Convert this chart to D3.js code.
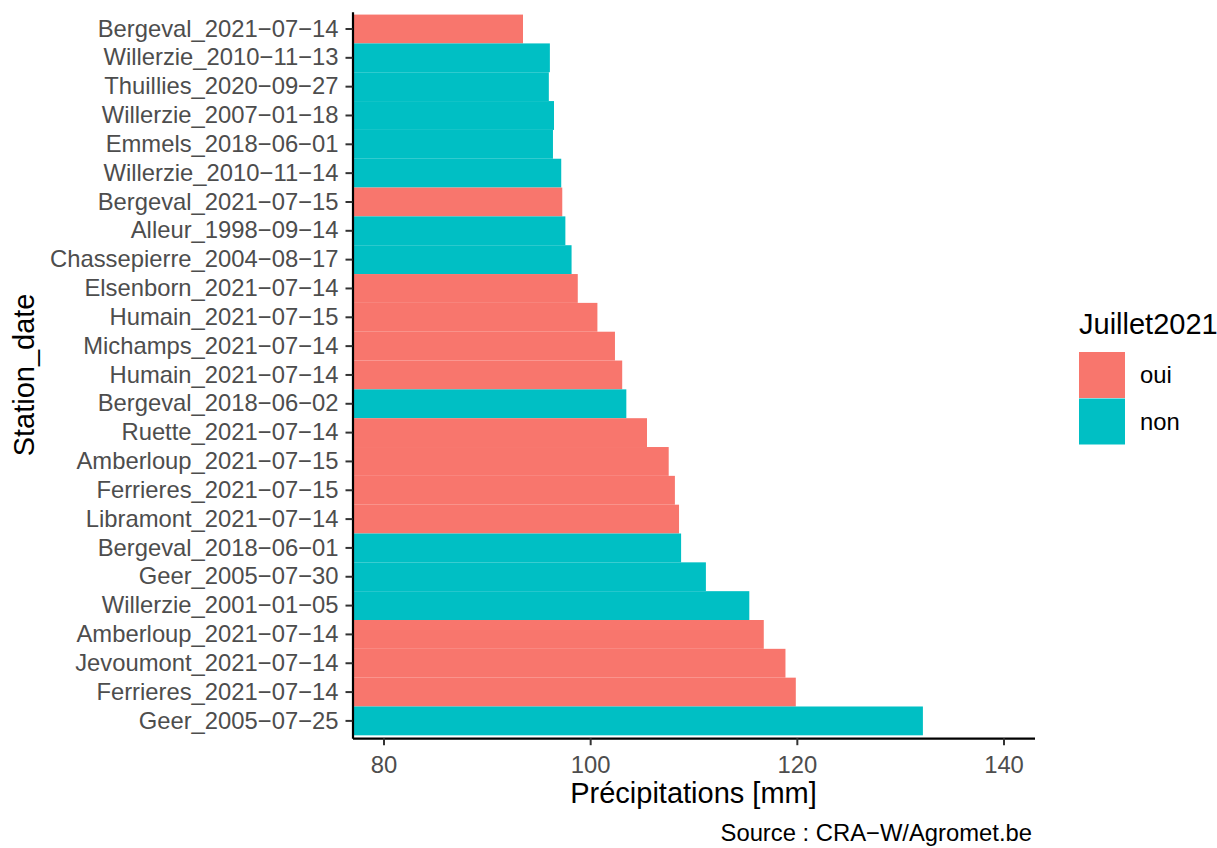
<!DOCTYPE html>
<html>
<head>
<meta charset="utf-8">
<script src="https://cdn.jsdelivr.net/npm/d3@7"></script>
<style>
  body { margin: 0; background: #fff; }
  svg text { font-family: "Liberation Sans", Arial, Helvetica, sans-serif; }
</style>
</head>
<body>
<div id="chart"></div>
<script>
// Data, top to bottom as in the picture
const stations = [
  "Bergeval_2021−07−14", "Willerzie_2010−11−13", "Thuillies_2020−09−27",
  "Willerzie_2007−01−18", "Emmels_2018−06−01", "Willerzie_2010−11−14",
  "Bergeval_2021−07−15", "Alleur_1998−09−14", "Chassepierre_2004−08−17",
  "Elsenborn_2021−07−14", "Humain_2021−07−15", "Michamps_2021−07−14",
  "Humain_2021−07−14", "Bergeval_2018−06−02", "Ruette_2021−07−14",
  "Amberloup_2021−07−15", "Ferrieres_2021−07−15", "Libramont_2021−07−14",
  "Bergeval_2018−06−01", "Geer_2005−07−30", "Willerzie_2001−01−05",
  "Amberloup_2021−07−14", "Jevoumont_2021−07−14", "Ferrieres_2021−07−14",
  "Geer_2005−07−25"
];
const precip = [
  93.5, 96.1, 96.0, 96.5, 96.4, 97.2, 97.3, 97.6, 98.2,
  98.8, 100.7, 102.4, 103.1, 103.5, 105.5, 107.6, 108.2, 108.6,
  108.8, 111.2, 115.4, 116.8, 118.9, 119.9, 132.2
];
const juillet2021 = [
  "oui", "non", "non", "non", "non", "non", "oui", "non", "non",
  "oui", "oui", "oui", "oui", "non", "oui", "oui", "oui", "oui",
  "non", "non", "non", "oui", "oui", "oui", "non"
];
const groups = ["oui", "non"];
const groupColors = ["#F8766D", "#00BFC4"];
const xTicks = [80, 100, 120, 140];

const width = 1217, height = 848;
const panel = {left: 352.5, right: 1034.5, top: 11.7, bottom: 738.2};

const svg = d3.select("#chart")
    .append("svg")
    .attr("width", width)
    .attr("height", height);

// Scales
const x = d3.scaleLinear().domain([77, 143]).range([panel.left, panel.right]);
const y = d3.scaleBand().domain(stations).range([panel.top, panel.bottom])
    .paddingInner(0).paddingOuter(0.1);
const color = d3.scaleOrdinal().domain(groups).range(groupColors);

const rows = stations.map((s, i) => ({station: s, value: precip[i], group: juillet2021[i]}));

// Bars (they start below the visible range, so clip to the panel)
svg.append("clipPath").attr("id", "clip")
  .append("rect")
    .attr("x", panel.left).attr("y", panel.top)
    .attr("width", panel.right - panel.left)
    .attr("height", panel.bottom - panel.top);

svg.append("g")
    .attr("clip-path", "url(#clip)")
  .selectAll(".bar")
  .data(rows)
  .enter().append("rect")
    .attr("class", "bar")
    .attr("x", x(0))
    .attr("y", d => y(d.station))
    .attr("width", d => x(d.value) - x(0))
    .attr("height", y.bandwidth())
    .attr("fill", d => color(d.group));

// Axes
const yAxis = svg.append("g")
    .attr("transform", "translate(" + panel.left + ",0)")
    .call(d3.axisLeft(y).tickSize(7).tickSizeOuter(0).tickPadding(7));

const xAxis = svg.append("g")
    .attr("transform", "translate(0," + panel.bottom + ")")
    .call(d3.axisBottom(x).tickValues(xTicks).tickSize(7).tickSizeOuter(0).tickPadding(6));

[yAxis, xAxis].forEach(g => {
  g.select(".domain").attr("stroke", "#000").attr("stroke-width", 2.2);
  g.selectAll(".tick line").attr("stroke", "#333").attr("stroke-width", 2);
  g.selectAll(".tick text")
    .attr("fill", "#4D4D4D")
    .style("font-size", "23.8px");
});
xAxis.selectAll(".tick text").attr("dy", "0.9em");

// Axis titles
svg.append("text")
    .attr("x", (panel.left + panel.right) / 2)
    .attr("y", 803)
    .attr("text-anchor", "middle")
    .style("font-size", "29px")
    .text("Précipitations [mm]");

svg.append("text")
    .attr("transform", "translate(34," + ((panel.top + panel.bottom) / 2) + ") rotate(-90)")
    .attr("text-anchor", "middle")
    .style("font-size", "29px")
    .text("Station_date");

// Caption
svg.append("text")
    .attr("x", 1032)
    .attr("y", 840.5)
    .attr("text-anchor", "end")
    .style("font-size", "23.8px")
    .text("Source : CRA−W/Agromet.be");

// Legend
const legend = svg.append("g").attr("transform", "translate(1079,0)");
legend.append("text")
    .attr("x", 0)
    .attr("y", 333.5)
    .style("font-size", "29px")
    .text("Juillet2021");

const keys = legend.selectAll(".key")
  .data(groups)
  .enter().append("g")
    .attr("class", "key")
    .attr("transform", (d, i) => "translate(0," + (352 + i * 46.5) + ")");
keys.append("rect")
    .attr("width", 46)
    .attr("height", 46)
    .attr("fill", d => color(d));
keys.append("text")
    .attr("x", 61)
    .attr("y", 23)
    .attr("dy", "0.35em")
    .style("font-size", "23.8px")
    .text(d => d);
</script>
</body>
</html>
